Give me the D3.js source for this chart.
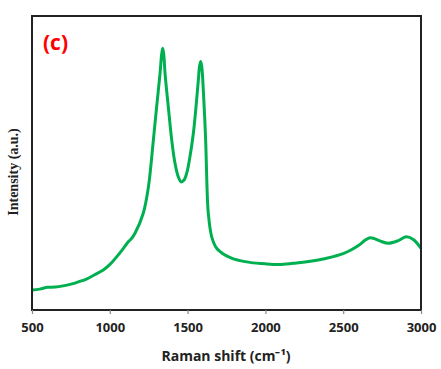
<!DOCTYPE html>
<html>
<head>
<meta charset="utf-8">
<script src="https://cdn.jsdelivr.net/npm/d3@7"></script>
<style>
  html, body { margin: 0; padding: 0; background: #fff; }
  svg { display: block; }
</style>
</head>
<body>
<svg id="chart" width="441" height="369"></svg>
<script>
// Raman shift (cm-1)
const ramanShift = [500, 550, 600, 650, 700, 750, 800, 850, 900, 958, 1001, 1066, 1119, 1141, 1162, 1215, 1247, 1280, 1301, 1323, 1333, 1340, 1347, 1355, 1376, 1398, 1419, 1440, 1458, 1476, 1494, 1515, 1537, 1554, 1569, 1577, 1584, 1591, 1601, 1616, 1624, 1633, 1655, 1687, 1740, 1772, 1800, 1900, 2000, 2100, 2200, 2300, 2400, 2500, 2550, 2600, 2640, 2672, 2700, 2740, 2790, 2850, 2904, 2950, 3000];
// Intensity (a.u.)
const intensity = [68, 71, 77, 78, 82, 88, 96, 105, 119, 136, 155, 195, 232, 244, 261, 329, 414, 578, 691, 805, 868, 890, 868, 805, 691, 578, 499, 453, 436, 441, 465, 521, 601, 691, 782, 830, 845, 828, 748, 578, 430, 329, 249, 210, 187, 179, 173, 162, 157, 155, 160, 167, 177, 192, 204, 220, 237, 246, 243, 234, 227, 235, 249, 240, 210];
const xTicks = [500, 1000, 1500, 2000, 2500, 3000];

const svg = d3.select("#chart");
const margin = { left: 32, top: 16, right: 20, bottom: 59 };
const W = 441, H = 369;
const x = d3.scaleLinear().domain([500, 3000]).range([margin.left, W - margin.right]);
const y = d3.scaleLinear().domain([0, 1000]).range([H - margin.bottom, margin.top]);

const data = ramanShift.map((v, i) => [v, intensity[i]]);

// line
const line = d3.line().x(d => x(d[0])).y(d => y(d[1])).curve(d3.curveCatmullRom.alpha(0.5));
svg.append("path")
  .datum(data)
  .attr("d", line)
  .attr("fill", "none")
  .attr("stroke", "#00B050")
  .attr("stroke-width", 3)
  .attr("stroke-linejoin", "round");

// frame
svg.append("rect")
  .attr("x", x(500)).attr("y", y(1000))
  .attr("width", x(3000) - x(500)).attr("height", y(0) - y(1000))
  .attr("fill", "none").attr("stroke", "#222").attr("stroke-width", 2);

// x axis
const xAxis = d3.axisBottom(x).tickValues(xTicks).tickSize(4).tickPadding(9).tickFormat(d3.format("d"));
const gx = svg.append("g").attr("transform", `translate(0,${y(0)})`).call(xAxis);
gx.select(".domain").remove();
gx.selectAll(".tick line").attr("stroke", "#888").attr("stroke-width", 1.2);
gx.selectAll(".tick text")
  .attr("font-family", "'Open Sans', sans-serif")
  .attr("font-weight", "bold")
  .attr("font-size", 13)
  .attr("fill", "#222");

// x title
svg.append("text")
  .attr("x", 226).attr("y", 361)
  .attr("text-anchor", "middle")
  .attr("font-family", "'Open Sans', sans-serif")
  .attr("font-weight", "bold")
  .attr("font-size", 14)
  .attr("fill", "#222")
  .text("Raman shift (cm⁻¹)");

// y title
svg.append("text")
  .attr("transform", "translate(18,172) rotate(-90)")
  .attr("text-anchor", "middle")
  .attr("font-family", "'Liberation Serif', 'Times New Roman', serif")
  .attr("font-weight", "bold")
  .attr("font-size", 14)
  .attr("fill", "#222")
  .text("Intensity (a.u.)");

// panel label
svg.append("text")
  .attr("x", 43).attr("y", 50)
  .attr("font-family", "'Open Sans', sans-serif")
  .attr("font-weight", "bold")
  .attr("font-size", 21)
  .attr("fill", "#ff0000")
  .text("(c)");
</script>
</body>
</html>
